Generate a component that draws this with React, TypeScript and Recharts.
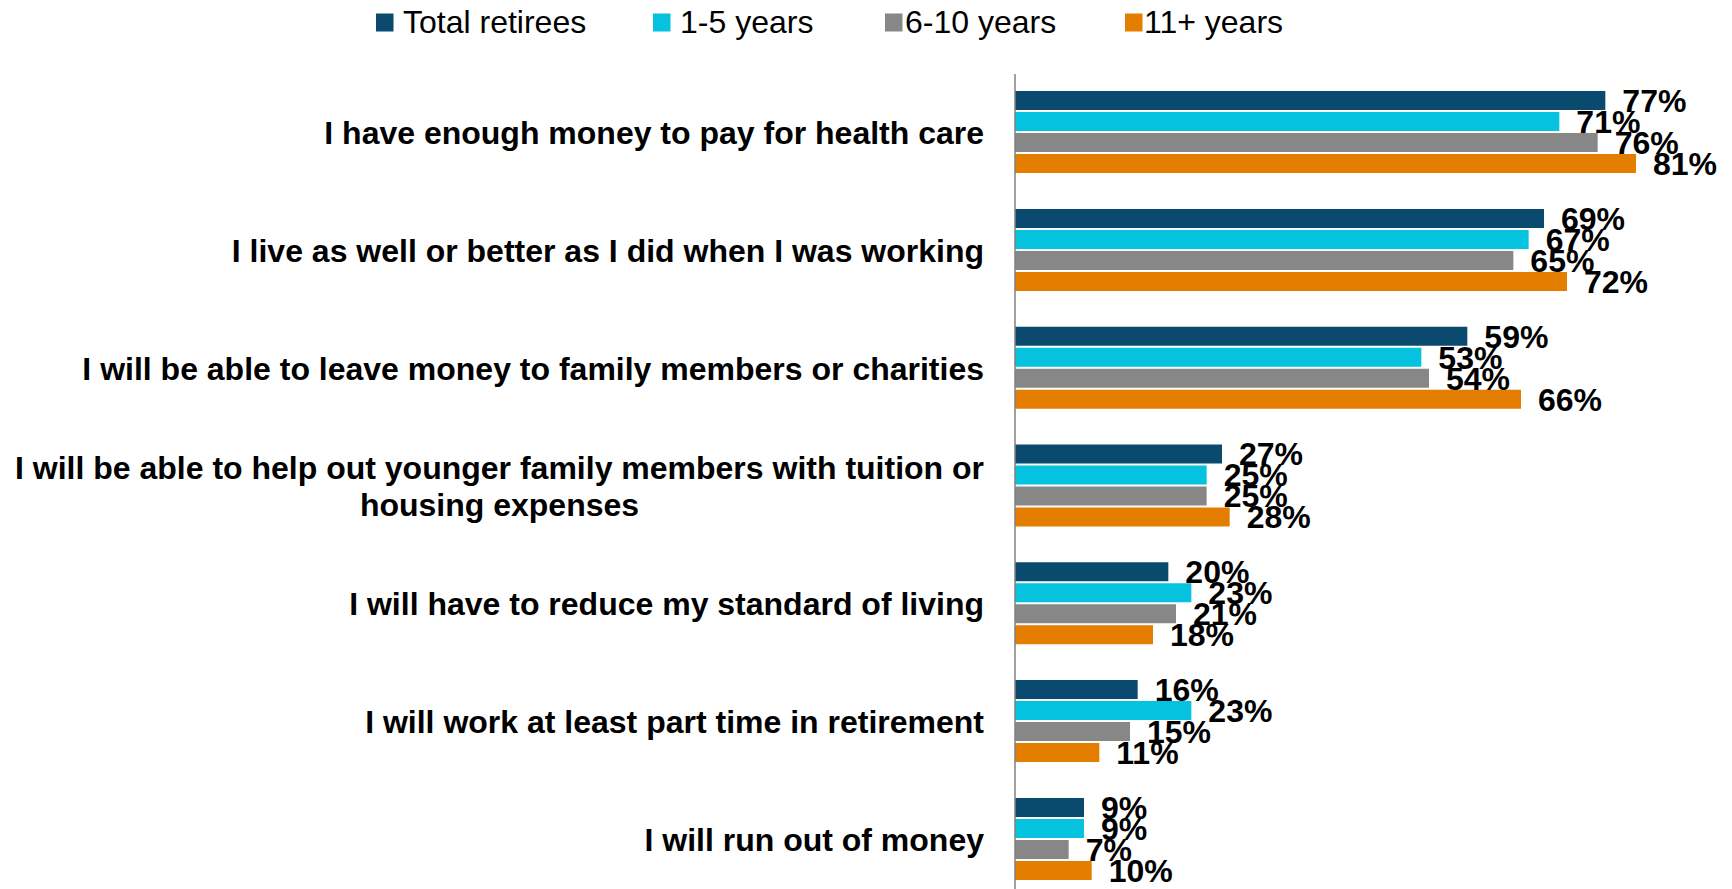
import { Bar, BarChart, LabelList, XAxis, YAxis } from 'recharts';

const categories = [
  'I have enough money to pay for health care',
  'I live as well or better as I did when I was working',
  'I will be able to leave money to family members or charities',
  'I will be able to help out younger family members with tuition or housing expenses',
  'I will have to reduce my standard of living',
  'I will work at least part time in retirement',
  'I will run out of money',
];

// how Excel wrapped the long label
const categoryLines: string[][] = [
  ['I have enough money to pay for health care'],
  ['I live as well or better as I did when I was working'],
  ['I will be able to leave money to family members or charities'],
  ['I will be able to help out younger family members with tuition or', 'housing expenses'],
  ['I will have to reduce my standard of living'],
  ['I will work at least part time in retirement'],
  ['I will run out of money'],
];

const seriesNames = ['Total retirees', '1-5 years', '6-10 years', '11+ years'];
const totalRetirees = [77, 69, 59, 27, 20, 16, 9];
const years1to5 = [71, 67, 53, 25, 23, 23, 9];
const years6to10 = [76, 65, 54, 25, 21, 15, 7];
const years11plus = [81, 72, 66, 28, 18, 11, 10];

const COLORS = ['#0a4a6e', '#05c2de', '#878787', '#e37e00'];
const FONT = '"Liberation Sans", Arial, sans-serif';
const FONT_SIZE = 32;
const LINE_GAP = 37.6;

// legend item lefts (square, text) picked from the reference layout
const LEGEND_ITEMS = [
  { square: 376, text: 403 },
  { square: 653, text: 680 },
  { square: 885, text: 905 },
  { square: 1125, text: 1144 },
];

const data = categories.map((name, i) => ({
  name,
  total: totalRetirees[i],
  y1to5: years1to5[i],
  y6to10: years6to10[i],
  y11plus: years11plus[i],
}));

const keys = ['total', 'y1to5', 'y6to10', 'y11plus'];

let ctx: CanvasRenderingContext2D | null = null;
function textWidth(text: string): number {
  if (!ctx) {
    ctx = document.createElement('canvas').getContext('2d');
  }
  if (!ctx) return text.length * FONT_SIZE * 0.55;
  ctx.font = `bold ${FONT_SIZE}px ${FONT}`;
  return ctx.measureText(text).width;
}

function CategoryTick(props: any) {
  const { x, y, payload } = props;
  const idx = categories.indexOf(payload.value);
  const lines = categoryLines[idx] ?? [payload.value];
  if (lines.length === 1) {
    return (
      <text x={x} y={y} dy="0.355em" textAnchor="end" fontFamily={FONT} fontSize={FONT_SIZE} fontWeight="bold" fill="#000">
        {lines[0]}
      </text>
    );
  }
  // Excel centres wrapped lines inside a right-aligned block
  const blockWidth = Math.max(...lines.map(textWidth));
  const cx = x - blockWidth / 2;
  const top = y - ((lines.length - 1) * LINE_GAP) / 2;
  return (
    <text textAnchor="middle" fontFamily={FONT} fontSize={FONT_SIZE} fontWeight="bold" fill="#000">
      {lines.map((line, i) => (
        <tspan key={line} x={cx} y={top + i * LINE_GAP} dy="0.355em">
          {line}
        </tspan>
      ))}
    </text>
  );
}

function LegendBar() {
  return (
    <svg width={1732} height={50} style={{ position: 'absolute', left: 0, top: 0 }}>
      {seriesNames.map((name, i) => (
        <g key={name}>
          <rect x={LEGEND_ITEMS[i].square} y={13.5} width={17.5} height={18} fill={COLORS[i]} />
          <text x={LEGEND_ITEMS[i].text} y={32.5} fontFamily={FONT} fontSize={FONT_SIZE} fill="#000">
            {name}
          </text>
        </g>
      ))}
    </svg>
  );
}

export default function App() {
  return (
    <div style={{ position: 'absolute', left: 0, top: 0, width: 1732, height: 889, overflow: 'hidden', background: '#fff' }}>
      <BarChart
        width={1732}
        height={900}
        data={data}
        layout="vertical"
        margin={{ top: 74, right: 27, bottom: 1.4, left: 0 }}
        barCategoryGap="14.5%"
        barGap={2}
      >
        <XAxis type="number" domain={[0, 90]} hide />
        <YAxis
          type="category"
          dataKey="name"
          width={1015}
          axisLine={{ stroke: '#808080', strokeWidth: 1.5 }}
          tickLine={false}
          tickSize={0}
          tickMargin={31}
          interval={0}
          tick={<CategoryTick />}
        />
        {keys.map((key, i) => (
          <Bar key={key} dataKey={key} name={seriesNames[i]} fill={COLORS[i]} isAnimationActive={false}>
            <LabelList
              dataKey={key}
              position="right"
              offset={17}
              formatter={(v: any) => `${v}%`}
              fill="#000"
              fontFamily={FONT}
              fontSize={FONT_SIZE}
              fontWeight="bold"
            />
          </Bar>
        ))}
      </BarChart>
      <LegendBar />
    </div>
  );
}
